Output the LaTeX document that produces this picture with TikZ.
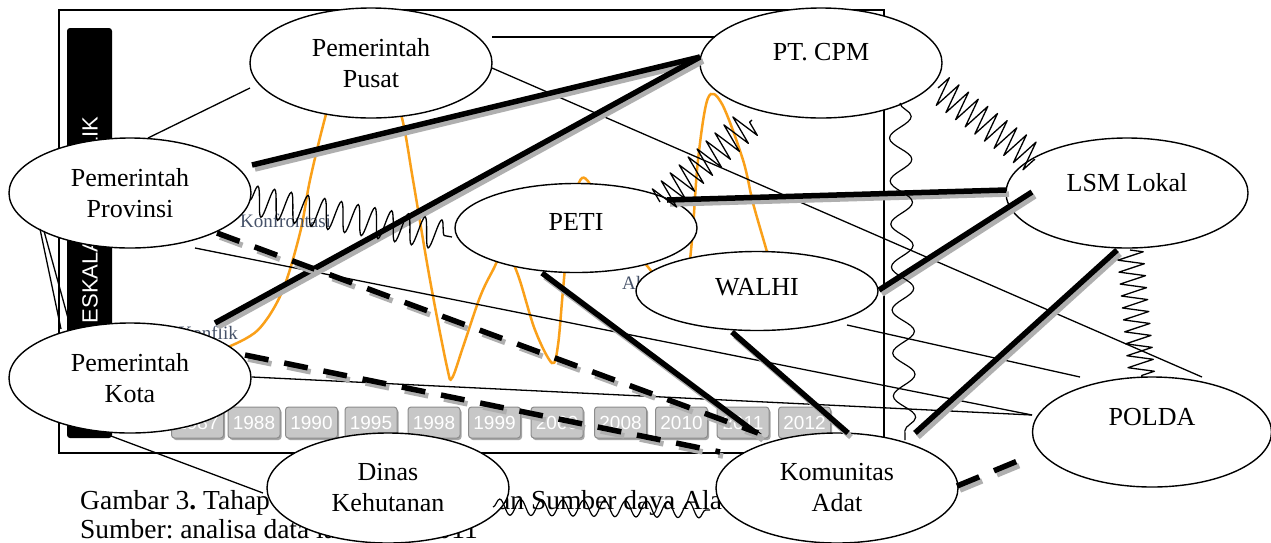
\documentclass[tikz,border=0pt]{standalone}
\usepackage{fontspec}
\setmainfont{Liberation Serif}
\newfontfamily\arialf{Liberation Sans}
\usetikzlibrary{calc,decorations.pathmorphing,shapes.geometric}
\definecolor{orangec}{RGB}{250,160,25}
\definecolor{labelc}{RGB}{70,82,105}
\definecolor{shadowc}{RGB}{175,175,175}
\frenchspacing
\begin{document}
\begin{tikzpicture}[x=1pt,y=-1pt,
  ell/.style={ellipse, draw, line width=1.4pt, fill=white, inner sep=0pt, align=center,
    minimum width=242pt, minimum height=110pt, font=\fontsize{26}{31}\selectfont},
  thinlink/.style={line width=1.3pt},
  boldlink/.style={line width=5.5pt,
    preaction={draw=shadowc, line width=5.5pt, transform canvas={xshift=3pt,yshift=-4pt}}},
  dashlink/.style={line width=5.5pt, dash pattern=on 24pt off 16pt,
    preaction={draw=shadowc, line width=5.5pt, dash pattern=on 24pt off 16pt, transform canvas={xshift=3pt,yshift=-4pt}}},
  snakeA/.style={decorate, decoration={snake, segment length=17pt, amplitude=15pt}, line width=1.3pt},
  zigB/.style={decorate, decoration={zigzag, segment length=12pt, amplitude=15pt}, line width=1.3pt, line join=round},
  zigC/.style={decorate, decoration={zigzag, segment length=12pt, amplitude=13pt}, line width=1.3pt, line join=round},
  snakeD/.style={decorate, decoration={snake, segment length=43pt, amplitude=11pt}, line width=1.2pt},
  snakeE/.style={decorate, decoration={snake, segment length=21pt, amplitude=8pt}, line width=1.2pt},
  yrbtn/.style={rounded corners=3pt, draw=black!45, line width=1pt, fill=black!22,
    minimum width=52pt, minimum height=31pt, inner sep=0pt, text=white,
    font=\arialf\fontsize{19}{19}\selectfont,
    preaction={fill=black!35, transform canvas={xshift=1.5pt,yshift=-2pt}}},
  lbl/.style={inner sep=0pt, text=labelc, font=\fontsize{19}{19}\selectfont},
  captxt/.style={inner sep=0pt, font=\fontsize{27.5}{29}\selectfont}
]
\useasboundingbox (0,0) rectangle (1271,542);
\fill[white] (0,0) rectangle (1271,542);

% background chart
\draw[line width=1.3pt] (59,10) rectangle (884,453);
\fill[black, rounded corners=3pt] (67,28) rectangle (112,438);
\node[rotate=90, text=white, inner sep=0pt, font=\arialf\fontsize{22}{22}\selectfont] (bartext) at (90,220) {ESKALASI KONFLIK};

\foreach \yr/\cx in {1987/197.5,1988/254,1990/311.5,1995/371,1998/434,1999/494.5,2000/557,2008/620.5,2010/681.5,2011/743,2012/804.5}
  \node[yrbtn] (b\yr) at (\cx,422.5) {\yr};

\draw[orangec, line width=2.5pt] plot[smooth, tension=0.55] coordinates {
  (228,347) (258,330) (282,292) (300,233) (310,180) (325,118) (343,55) (363,35) (383,55)
  (402,118) (413,180) (430,280) (447,367) (452,378) (463,347) (480,297) (493,270) (505,250)
  (518,275) (535,330) (552,363) (558,345) (563,290) (570,220) (582,178) (600,200) (630,245)
  (652,272) (670,298) (686,280) (692,240) (698,160) (708,98) (722,104) (743,160) (753,203)
  (767,252) (780,300)};

\node[lbl, anchor=base west] (konfr) at (240,227) {Konfrontasi};
\node[lbl, anchor=base east] (konfl) at (238,339) {Konflik};
\node[lbl, anchor=base west] (al) at (622,289) {Al};

% caption
\node[captxt, anchor=base west] (cap1) at (80,509) {Gambar 3\textbf{.} Tahap};
\node[captxt, anchor=base west] (cap2) at (498,509) {an Sumber daya Ala};
\node[captxt, anchor=base west] (cap3) at (80,538) {Sumber: analisa data la};
\node[captxt, anchor=base east] (cap4) at (478,538) {011};

% actors
\node[ell] (pusat) at (371,63) {Pemerintah\\Pusat};
\node[ell, text depth=22pt] (cpm) at (821,63) {PT. CPM};
\node[ell] (prov) at (130,193) {Pemerintah\\Provinsi};
\node[ell] (kota) at (130,378) {Pemerintah\\Kota};
\node[ell] (dinas) at (388,488) {Dinas\\Kehutanan};
\node[ell, minimum height=89pt, text depth=12pt] (peti) at (576,228) {PETI};
\node[ell, minimum height=79pt, text depth=8pt] (walhi) at (757,291) {WALHI};
\node[ell, text depth=22pt] (lsm) at (1127,193) {LSM Lokal};
\node[ell, minimum width=239pt, text depth=30pt] (polda) at (1152,432) {POLDA};
\node[ell] (adat) at (837,488) {Komunitas\\Adat};

% thin links
\draw[thinlink] ($(pusat)+(-121,25)$) -- ($(prov)+(18,-55)$);
\draw[thinlink] ($(pusat)+(121,-26)$) -- ($(cpm)+(-106,-26)$);
\draw[thinlink] ($(pusat)+(121,5)$) -- ($(polda)+(50,-55)$);
\draw[thinlink] ($(prov)+(-90,36)$) -- ($(kota)+(-69,-49)$);
\draw[thinlink] ($(prov)+(-86,38)$) -- ($(kota)+(-62,-60)$);
\draw[thinlink] ($(prov)+(65,55)$) -- ($(polda)+(-120,-17)$);
\draw[thinlink] ($(kota)+(122,-1)$) -- ($(polda)+(-120,-17)$);
\draw[thinlink] ($(walhi)+(90,34)$) -- ($(polda)+(-72,-55)$);
\draw[thinlink] ($(kota)+(-27,55)$) -- ($(dinas)+(-125,5)$);

% strong links
\draw[boldlink] ($(prov)+(122,-28)$) -- ($(cpm)+(-121,-6)$);
\draw[boldlink] ($(kota)+(85,-55)$) -- ($(cpm)+(-121,-6)$);
\draw[boldlink] ($(peti)+(91,-28)$) -- ($(lsm)+(-121,-3)$);
\draw[boldlink] ($(walhi)+(122,-1)$) -- ($(lsm)+(-95,-1)$);
\draw[boldlink] ($(peti)+(-34,45)$) -- ($(adat)+(-77,-52)$);
\draw[boldlink] ($(walhi)+(-25,41)$) -- ($(adat)+(11,-55)$);
\draw[boldlink] ($(lsm)+(-10,57)$) -- ($(adat)+(78,-55)$);

% weak links
\draw[dashlink] ($(prov)+(87,40)$) -- ($(adat)+(-79,-55)$);
\draw[dashlink] ($(kota)+(115,-23)$) -- ($(adat)+(-117,-36)$);
\draw[dashlink] ($(adat)+(120,-2)$) -- ($(polda)+(-132,28)$);

% conflict links
\draw[snakeA] ($(prov)+(120,7)$) -- ($(peti)+(-124,9)$);
\draw[zigB] ($(peti)+(84,-26)$) -- ($(cpm)+(-69,57)$);
\draw[zigB] ($(cpm)+(117,25)$) -- ($(lsm)+(-92,-33)$);
\draw[snakeD] ($(cpm)+(79,40)$) -- ($(adat)+(68,-48)$);
\draw[zigC] ($(lsm)+(3,57)$) -- ($(polda)+(-10,-54)$);
\draw[snakeE] ($(dinas)+(105,19)$) -- ($(adat)+(-127,22)$);
\end{tikzpicture}
\end{document}
